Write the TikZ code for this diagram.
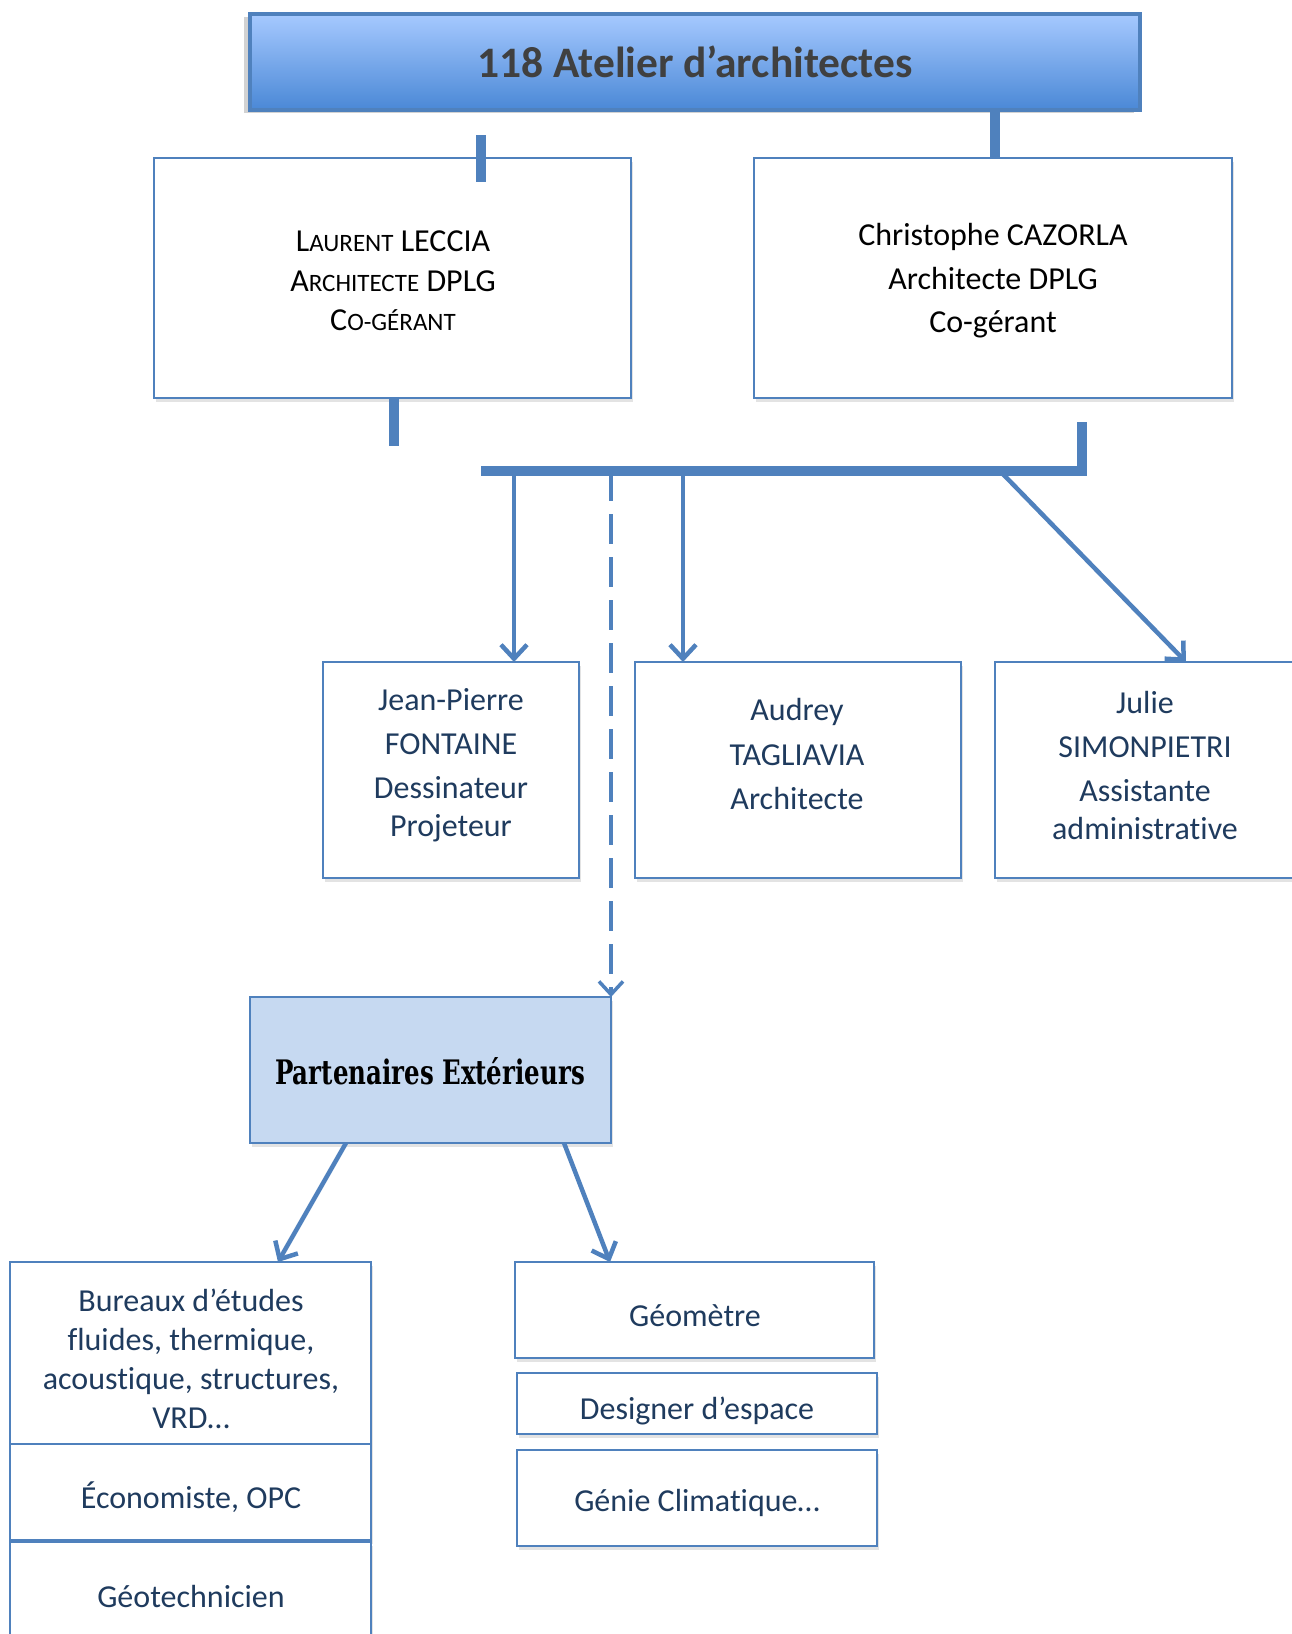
\documentclass[tikz,border=0pt]{standalone}
\usepackage{fontspec}
\usepackage{graphicx}
\setmainfont{Carlito}[Ligatures=CommonOff]
\newfontfamily\partfont{DejaVu Serif}
\usetikzlibrary{arrows.meta,shadows}
\definecolor{bblue}{HTML}{4F81BD}
\definecolor{navy}{HTML}{1F3B5E}
\definecolor{partfill}{HTML}{C6D9F1}
\definecolor{titletop}{HTML}{A6C9FF}
\definecolor{titlebot}{HTML}{4A88D6}
\definecolor{titletext}{HTML}{404040}
\newcommand{\smc}[1]{{\fontsize{25}{25}\selectfont #1}}
\begin{document}
\begin{tikzpicture}[x=1pt,y=-1pt,
  box/.style={draw=bblue, line width=2pt, fill=white, inner sep=0pt, outer sep=0pt,
    drop shadow={shadow xshift=2pt, shadow yshift=-4pt, opacity=0.22}},
  titlebox/.style={draw=bblue, line width=4pt, top color=titletop, bottom color=titlebot,
    inner sep=0pt, outer sep=0pt, text=titletext, font=\fontsize{43.5}{50}\selectfont\bfseries,
    drop shadow={shadow xshift=-6pt, shadow yshift=-3pt, opacity=0.35}},
  txt/.style={align=center, inner sep=0pt, text=navy},
  stub/.style={draw=bblue, line width=10pt, line join=miter},
  arr/.style={draw=bblue, line width=4.5pt, -{Straight Barb[length=14pt,width=26pt]}},
  dasharr/.style={draw=bblue, line width=3.5pt, dash pattern=on 30pt off 13pt,
    -{Straight Barb[length=13pt,width=24pt]}}
]
\useasboundingbox (0,0) rectangle (1292,1634);
\fill[white] (0,0) rectangle (1292,1634);

% boxes
\node[titlebox, minimum width=890pt, minimum height=96pt] (title) at (695,62) {118 Atelier d’architectes};
\node[box, minimum width=477pt, minimum height=240pt] (laurent) at (392.5,278) {};
\node[box, minimum width=478pt, minimum height=240pt] (chris) at (993,278) {};
\node[box, minimum width=256pt, minimum height=216pt] (jp) at (451,770) {};
\node[box, minimum width=326pt, minimum height=216pt] (aud) at (798,770) {};
\node[box, minimum width=315pt, minimum height=216pt] (jul) at (1152.5,770) {};
\node[box, fill=partfill, minimum width=361pt, minimum height=146pt] (part) at (430.5,1070) {};
\node[box, minimum width=361pt, minimum height=182pt] (bur) at (190.5,1353) {};
\node[box, minimum width=361pt, minimum height=96pt] (eco) at (190.5,1492) {};
\node[box, minimum width=361pt, minimum height=100pt] (geo) at (190.5,1592) {};
\node[box, minimum width=359pt, minimum height=96pt] (gm) at (694.5,1310) {};
\node[box, minimum width=360pt, minimum height=61pt] (des) at (697,1403.5) {};
\node[box, minimum width=360pt, minimum height=96pt] (gen) at (697,1498) {};

% texts
\node[txt, text=black, font=\fontsize{32}{39.5}\selectfont] (laurentT) at (393,281)
  {L\smc{AURENT} LECCIA\\A\smc{RCHITECTE} DPLG\\C\smc{O-GÉRANT}};
\node[txt, text=black, font=\fontsize{32}{43.5}\selectfont] (chrisT) at (993,281)
  {Christophe CAZORLA\\Architecte DPLG\\Co-gérant};
\node[txt, font=\fontsize{32}{44}\selectfont] (jpT) at (451,765)
  {Jean-Pierre\\FONTAINE\\Dessinateur\\[-6pt]Projeteur};
\node[txt, font=\fontsize{32}{44.5}\selectfont] (audT) at (797,754)
  {Audrey\\TAGLIAVIA\\Architecte};
\node[txt, font=\fontsize{32}{44}\selectfont] (julT) at (1145,765)
  {Julie\\SIMONPIETRI\\Assistante\\[-6pt]administrative};
\node[txt, text=black, font=\partfont\bfseries\fontsize{25}{30}\selectfont] (partT) at (430,1071)
  {\scalebox{0.98}[1.35]{Partenaires Extérieurs}};
\node[txt, font=\fontsize{32}{39}\selectfont] (burT) at (191,1359)
  {Bureaux d’études\\fluides, thermique,\\acoustique, structures,\\VRD…};
\node[txt, font=\fontsize{32}{39}\selectfont] (ecoT) at (191,1497) {Économiste, OPC};
\node[txt, font=\fontsize{32}{39}\selectfont] (geoT) at (191,1596) {Géotechnicien};
\node[txt, font=\fontsize{32}{39}\selectfont] (gmT) at (695,1316) {Géomètre};
\node[txt, font=\fontsize{32}{39}\selectfont] (desT) at (697,1411) {Designer d’espace};
\node[txt, font=\fontsize{32}{39}\selectfont] (genT) at (697,1503) {Génie Climatique…};

% connectors
\coordinate (barL) at (481,471);
\coordinate (barR) at (1087,471);
\draw[stub] ([xshift=745pt]title.south west) -- ([xshift=241pt]chris.north west);
\draw[stub] ([xshift=327pt,yshift=23pt]laurent.north west) -- ([xshift=327pt,yshift=-24pt]laurent.north west);
\draw[stub] ([xshift=240pt]laurent.south west) -- ([xshift=240pt,yshift=-48pt]laurent.south west);
\draw[stub] ([xshift=328pt,yshift=-24pt]chris.south west) |- (barL);

\path ([xshift=191pt]jp.north west) coordinate (jpin);
\path ([xshift=48pt]aud.north west) coordinate (audin);
\path ([xshift=191pt]jul.north west) coordinate (julin);
\path ([xshift=-87pt]barR) coordinate (julsrc);
\draw[arr] (jpin |- barL) -- (jpin);
\draw[arr] (audin |- barL) -- (audin);
\draw[arr] (julsrc) -- (julin);
\draw[dasharr] (part.north east |- barL) -- (part.north east);

\draw[arr] ([xshift=96pt]part.south west) -- ([xshift=268pt]bur.north west);
\draw[arr] ([xshift=314pt]part.south west) -- ([xshift=95pt]gm.north west);
\end{tikzpicture}
\end{document}
